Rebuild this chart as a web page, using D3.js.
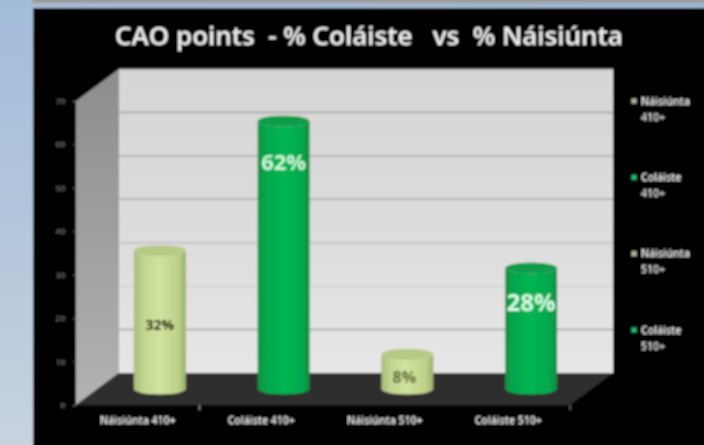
<!DOCTYPE html>
<html><head><meta charset="utf-8">
<script src="https://cdn.jsdelivr.net/npm/d3@7/dist/d3.min.js"></script>
<style>
html,body{margin:0;padding:0;background:#000;overflow:hidden}
svg{display:block}
text{font-family:"Open Sans",sans-serif}
</style></head><body>
<svg id="c" width="704" height="445"></svg>
<script>
const titleText = "CAO points  - % Coláiste   vs  % Náisiúnta";
const categories = ["Náisiúnta 410+", "Coláiste 410+", "Náisiúnta 510+", "Coláiste 510+"];
const values = [32, 62, 8, 28];
const valueLabels = ["32%", "62%", "8%", "28%"];
const legendFirst = ["Náisiúnta", "Coláiste", "Náisiúnta", "Coláiste"];
const legendSecond = ["410+", "410+", "510+", "510+"];
const groups = ["n", "c", "n", "c"];
const yTicks = [0, 10, 20, 30, 40, 50, 60, 70];

const svg = d3.select("#c");
const defs = svg.append("defs");
const blur = defs.append("filter").attr("id","soft").attr("x","-5%").attr("y","-5%").attr("width","110%").attr("height","110%");
blur.append("feGaussianBlur").attr("stdDeviation",0.9);
function grad(id, stops, horizontal){
  const g = defs.append("linearGradient").attr("id",id)
    .attr("x1",0).attr("y1",0).attr("x2",horizontal?1:0).attr("y2",horizontal?0:1);
  stops.forEach(s=>g.append("stop").attr("offset",s[0]).attr("stop-color",s[1]));
}
grad("bg",[[0,"#a3bcd9"],[0.5,"#b3c6dc"],[1,"#c8d3df"]]);
grad("strip",[[0,"#a9bbd2"],[1,"#9fb6d3"]],true);
grad("wall",[[0,"#d6d6d6"],[0.5,"#dcdcdc"],[1,"#e6e6e6"]]);
grad("side",[[0,"#8d8d8d"],[1,"#b2b2b2"]]);
grad("cylN",[[0,"#a8bc78"],[0.2,"#c3d792"],[0.5,"#cfe39c"],[0.85,"#bed18b"],[1,"#9cae6c"]],true);
grad("cylC",[[0,"#0f8f42"],[0.15,"#06a64c"],[0.5,"#00b552"],[0.85,"#05a84d"],[1,"#0d8a40"]],true);

const art = svg.append("g").attr("filter","url(#soft)");
art.append("rect").attr("width",704).attr("height",445).attr("fill","#000");
art.append("rect").attr("x",-2).attr("y",-2).attr("width",35).attr("height",449).attr("fill","url(#bg)");
art.append("rect").attr("x",32).attr("y",-2).attr("width",674).attr("height",5).attr("fill","#9c9c9c");
art.append("rect").attr("x",32).attr("y",3).attr("width",674).attr("height",5).attr("fill","url(#strip)");

const depthX = 43, depthY = 32;
const x0 = 76, x1 = 570;
const y = d3.scaleLinear().domain([0,70]).range([405,101]);
const xFront = d3.scaleBand().domain(categories).range([x0,x1]);
const xBar = d3.scaleBand().domain(categories).range([98,593]).paddingInner(0.58).paddingOuter(0.29);
const yBar = d3.scaleLinear().domain([0,70]).range([389,86.6]);

const line = d3.line();
art.append("path").attr("d",line([[x0,y(0)],[x0+depthX,y(0)-depthY],[x0+depthX,y(70)-depthY],[x0,y(70)]])+"Z").attr("fill","url(#side)");
art.append("rect").attr("x",x0+depthX).attr("y",y(70)-depthY).attr("width",x1-x0).attr("height",y(0)-y(70)).attr("fill","url(#wall)");
art.append("path").attr("d",line([[x0+depthX,y(70)-depthY],[x1+depthX,y(70)-depthY]])).attr("stroke","#7a7a7a").attr("fill","none");

const tickShade = {10:"#a0a0a0",20:"#d2d2d2",30:"#c0c0c0",40:"#a8a8a8",50:"#a8a8a8",60:"#a0a0a0"};
art.append("g").selectAll("line").data(yTicks.filter(t=>t>0&&t<70)).join("line")
  .attr("x1",x0+depthX).attr("x2",x1+depthX)
  .attr("y1",d=>y(d)-depthY).attr("y2",d=>y(d)-depthY)
  .attr("stroke",d=>tickShade[d]).attr("stroke-width",1.5);

art.append("path").attr("d",line([[x0,y(0)],[x0+depthX,y(0)-depthY],[x1+depthX,y(0)-depthY],[x1,y(0)]])+"Z").attr("fill","#2d2d2d");

const yAxis = d3.axisLeft(y).tickValues(yTicks).tickSize(3).tickPadding(8);
const gy = art.append("g").attr("transform",`translate(${x0},0)`).call(yAxis);
gy.select(".domain").remove();
gy.selectAll("line").attr("stroke","#666");
gy.selectAll("text").attr("fill","#8c8c8c").attr("font-size",8);

const xAxis = d3.axisBottom(xFront).tickSize(0).tickPadding(12);
const gx = art.append("g").attr("transform",`translate(0,${y(0)})`).call(xAxis);
gx.select(".domain").remove();
gx.selectAll("text").attr("fill","#f0f0f0").attr("font-size",10.5).attr("font-weight",600);
art.append("g").selectAll("line").data([1,4]).join("line")
  .attr("x1",d=>x0+d*xFront.step()).attr("x2",d=>x0+d*xFront.step())
  .attr("y1",y(0)).attr("y2",y(0)+5).attr("stroke","#999");

const ry = 5.5;
const bars = art.append("g").selectAll("g").data(categories).join("g");
const bw = xBar.bandwidth();
bars.append("path").attr("d",(d,i)=>{
  const l=xBar(d), r=l+bw, t=yBar(values[i]), b=yBar(0);
  return `M${l},${t}L${l},${b}A${bw/2},${ry} 0 0 0 ${r},${b}L${r},${t}A${bw/2},${ry} 0 0 1 ${l},${t}Z`;
}).attr("fill",(d,i)=>groups[i]==="n"?"url(#cylN)":"url(#cylC)");
bars.append("ellipse").attr("cx",d=>xBar(d)+bw/2).attr("cy",(d,i)=>yBar(values[i]))
  .attr("rx",bw/2).attr("ry",ry)
  .attr("fill",(d,i)=>groups[i]==="n"?"#b6c985":"#0b9c48");

// value-label styling, placed along each bar in chart units
const labelStyle = [
  {at:14.8, size:14, color:"#000000", dx:0},
  {at:52.5, size:22, color:"#c8f8d8", dx:0},
  {at:2.8,  size:16, color:"#56662e", dx:-3},
  {at:20,   size:24, color:"#d4fbe2", dx:0}
];
art.append("g").selectAll("text").data(categories).join("text")
  .attr("x",(d,i)=>xBar(d)+bw/2+labelStyle[i].dx).attr("y",(d,i)=>yBar(labelStyle[i].at)).attr("dy","0.35em")
  .attr("text-anchor","middle").attr("font-weight",700)
  .attr("font-size",(d,i)=>labelStyle[i].size).attr("fill",(d,i)=>labelStyle[i].color)
  .text((d,i)=>valueLabels[i]);

art.append("text").attr("x",369).attr("y",36).attr("dy","0.35em").attr("text-anchor","middle")
  .attr("fill","#f4f4f4").attr("font-size",26).attr("font-weight",600)
  .style("white-space","pre").text(titleText);

const legendY = d3.scalePoint().domain(d3.range(categories.length)).range([101,330]);
const leg = art.append("g").selectAll("g").data(d3.range(categories.length)).join("g")
  .attr("transform",d=>`translate(634,${legendY(d)})`);
leg.append("rect").attr("x",-2.5).attr("y",-2.5).attr("width",5).attr("height",5)
  .attr("fill",d=>groups[d]==="n"?"#b4b8a4":"#20c070");
leg.append("text").attr("x",7).attr("dy","0.35em").attr("fill","#f0f0f0").attr("font-size",10.5).attr("font-weight",600).text(d=>legendFirst[d]);
leg.append("text").attr("x",7).attr("y",16).attr("dy","0.35em").attr("fill","#ddd").attr("font-size",10.5).attr("font-weight",600).text(d=>legendSecond[d]);
</script>
</body></html>
